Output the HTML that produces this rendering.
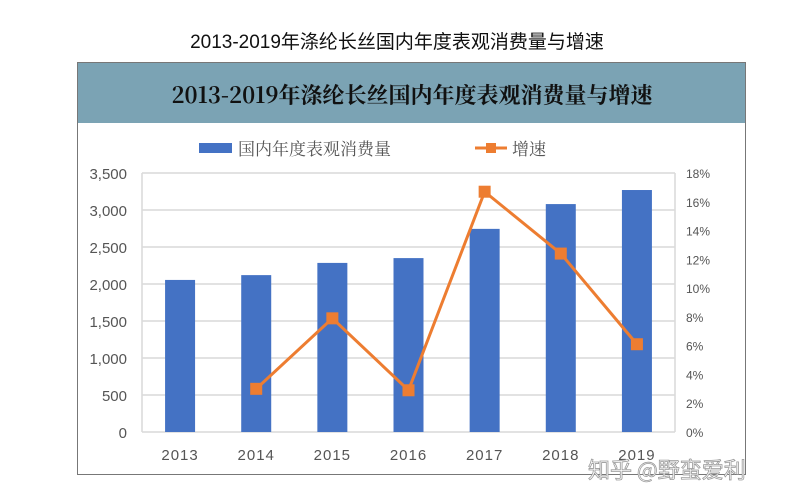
<!DOCTYPE html>
<html><head><meta charset="utf-8">
<style>
body{margin:0;width:795px;height:499px;background:#fff;overflow:hidden;font-family:"Liberation Sans","Noto Sans CJK SC",sans-serif;}
</style></head>
<body>
<svg width="795" height="499" xmlns="http://www.w3.org/2000/svg">
<text x="397" y="48" text-anchor="middle" font-size="19" fill="#111" font-family="Liberation Sans,Noto Sans CJK SC,sans-serif">2013-2019年涤纶长丝国内年度表观消费量与增速</text>
<rect x="77.5" y="62.5" width="668" height="412" fill="#fff" stroke="#777"/>
<rect x="78" y="63" width="667" height="60" fill="#7ba3b4"/>
<text x="412" y="103" text-anchor="middle" font-size="22" font-weight="bold" fill="#111" font-family="Noto Serif CJK SC,serif">2013-2019年涤纶长丝国内年度表观消费量与增速</text>
<g>
<rect x="199" y="143" width="33" height="10" fill="#4472c4"/>
<text x="238" y="155" font-size="17" fill="#555" font-family="Noto Serif CJK SC,serif">国内年度表观消费量</text>
<line x1="475" y1="148" x2="507" y2="148" stroke="#ed7d31" stroke-width="3"/>
<rect x="486" y="143" width="10" height="10" fill="#ed7d31"/>
<text x="512" y="155" font-size="17" fill="#555" font-family="Noto Serif CJK SC,serif">增速</text>
</g>
<g id="grid"></g><g id="bars"></g><g id="line"></g><g id="axes"></g>
<text x="588" y="478" font-size="22" fill="#fff" stroke="#999" stroke-width="0.8" font-family="Noto Sans CJK SC,sans-serif">知乎 @野蛮爱利</text>
</svg>
<script>
const categories=["2013","2014","2015","2016","2017","2018","2019"];
const volumes=[2055,2120,2285,2350,2745,3080,3270];
const growth=[null,3.0,7.9,2.9,16.7,12.4,6.1];
const leftTicks=["0","500","1,000","1,500","2,000","2,500","3,000","3,500"];
const rightTicks=["0%","2%","4%","6%","8%","10%","12%","14%","16%","18%"];
const NS="http://www.w3.org/2000/svg";
const X0=142,X1=675,Y0=432,Y1=173;
const yL=v=>Y0-(v/3500)*(Y0-Y1);
const yR=v=>Y0-(v/18)*(Y0-Y1);
const xC=i=>X0+(X1-X0)/categories.length*(i+0.5);
function mk(t,a,p){const e=document.createElementNS(NS,t);for(const k in a)e.setAttribute(k,a[k]);document.getElementById(p).appendChild(e);return e;}
leftTicks.forEach((t,i)=>{const v=i*500,y=yL(v);
 const g=mk('line',{x1:X0,x2:X1,y1:y,y2:y,stroke:'#d9d9d9','stroke-width':1.5},'grid');
 
 
 const tx=mk('text',{x:127,y:y+6,'text-anchor':'end','font-size':15,fill:'#555'},'axes');tx.textContent=t;
 
 
});
mk('line',{x1:X0,x2:X0,y1:Y1,y2:Y0,stroke:'#d9d9d9','stroke-width':1.5},'grid');
mk('line',{x1:X1,x2:X1,y1:Y1,y2:Y0,stroke:'#d9d9d9','stroke-width':1.5},'grid');
rightTicks.forEach((t,i)=>{const y=yR(i*2);
 const tx=mk('text',{x:686,y:y+5,'font-size':12,fill:'#555'},'axes');tx.textContent=t;
 
 
});
categories.forEach((c,i)=>{const x=xC(i);
 const b=mk('rect',{x:x-15,y:yL(volumes[i]),width:30,height:Y0-yL(volumes[i]),fill:'#4472c4'},'bars');
 
 
 const tx=mk('text',{x:x,y:460,'text-anchor':'middle','font-size':15,fill:'#555','letter-spacing':'1'},'axes');tx.textContent=c;
 
 
});
let pts=[];growth.forEach((g,i)=>{if(g!=null)pts.push([xC(i),yR(g)]);});
const pl=mk('polyline',{points:pts.map(p=>p.join(',')).join(' '),fill:'none',stroke:'#ed7d31','stroke-width':3},'line');


pts.forEach(p=>{const m=mk('rect',{x:p[0]-6,y:p[1]-6,width:12,height:12,fill:'#ed7d31'},'line');
 
 
});
</script>
</body></html>
